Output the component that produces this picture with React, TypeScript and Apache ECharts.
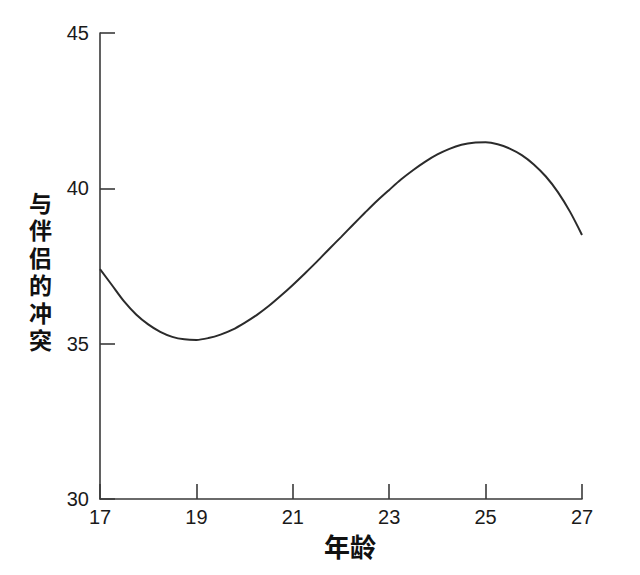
import React, { useEffect, useRef } from "react";
import * as echarts from "echarts";

const ages = [17, 17.25, 17.5, 17.75, 18, 18.25, 18.5, 18.75, 19, 19.25, 19.5, 19.75, 20, 20.25, 20.5, 20.75, 21, 21.25, 21.5, 21.75, 22, 22.25, 22.5, 22.75, 23, 23.25, 23.5, 23.75, 24, 24.25, 24.5, 24.75, 25, 25.25, 25.5, 25.75, 26, 26.25, 26.5, 26.75, 27];
const conflict = [37.4, 36.88, 36.36, 35.94, 35.62, 35.38, 35.22, 35.14, 35.12, 35.18, 35.29, 35.45, 35.67, 35.92, 36.21, 36.54, 36.89, 37.26, 37.64, 38.04, 38.43, 38.83, 39.22, 39.6, 39.95, 40.29, 40.59, 40.86, 41.09, 41.27, 41.4, 41.47, 41.48, 41.42, 41.28, 41.07, 40.77, 40.38, 39.88, 39.25, 38.5];
const xTicks = [17, 19, 21, 23, 25, 27];
const yTicks = [30, 35, 40, 45];
const yName = "与伴侣的冲突";
const xName = "年龄";

export default function App() {
  const ref = useRef<HTMLDivElement>(null);
  useEffect(() => {
    if (!ref.current) return;
    const chart = echarts.init(ref.current, undefined, { renderer: "svg" });
    const axisColor = "#3a3a3a";
    const nameFont = "Noto Sans CJK SC";
    const yNameTexts = yName.split("").map((ch, i) => ({
      type: "text",
      x: 40.5,
      y: 202 + i * 27.4,
      scaleX: 1.28,
      scaleY: 1.28,
      style: {
        text: ch,
        fontSize: 18,
        fontWeight: "bold",
        fontFamily: nameFont,
        fill: "#111",
        align: "center",
        verticalAlign: "middle",
      },
    }));
    chart.setOption({
      animation: false,
      backgroundColor: "#ffffff",
      grid: { left: 100, right: 58, top: 33, bottom: 76 },
      graphic: [
        ...yNameTexts,
        {
          type: "text",
          x: 350,
          y: 545,
          style: {
            text: xName,
            fontSize: 26,
            fontWeight: "bold",
            fontFamily: nameFont,
            fill: "#111",
            align: "center",
            verticalAlign: "middle",
          },
        },
      ],
      xAxis: {
        type: "value",
        min: xTicks[0],
        max: xTicks[xTicks.length - 1],
        interval: 2,
        axisLine: { lineStyle: { color: axisColor, width: 1.6 } },
        axisTick: { inside: true, length: 15, lineStyle: { color: axisColor, width: 1.6 } },
        axisLabel: { fontSize: 20, color: "#1a1a1a", margin: 8, fontFamily: "Liberation Sans" },
        splitLine: { show: false },
      },
      yAxis: {
        type: "value",
        min: yTicks[0],
        max: yTicks[yTicks.length - 1],
        interval: 5,
        axisLine: { show: true, lineStyle: { color: axisColor, width: 1.6 } },
        axisTick: { show: true, inside: true, length: 15, lineStyle: { color: axisColor, width: 1.6 } },
        axisLabel: { fontSize: 20, color: "#1a1a1a", margin: 11, fontFamily: "Liberation Sans" },
        splitLine: { show: false },
      },
      series: [
        {
          type: "line",
          data: ages.map((a, i) => [a, conflict[i]]),
          smooth: 0.3,
          showSymbol: false,
          lineStyle: { color: "#2b2b2b", width: 2 },
        },
      ],
    });
    return () => chart.dispose();
  }, []);
  return <div ref={ref} style={{ position: "fixed", left: 0, top: 0, width: 640, height: 575 }} />;
}
